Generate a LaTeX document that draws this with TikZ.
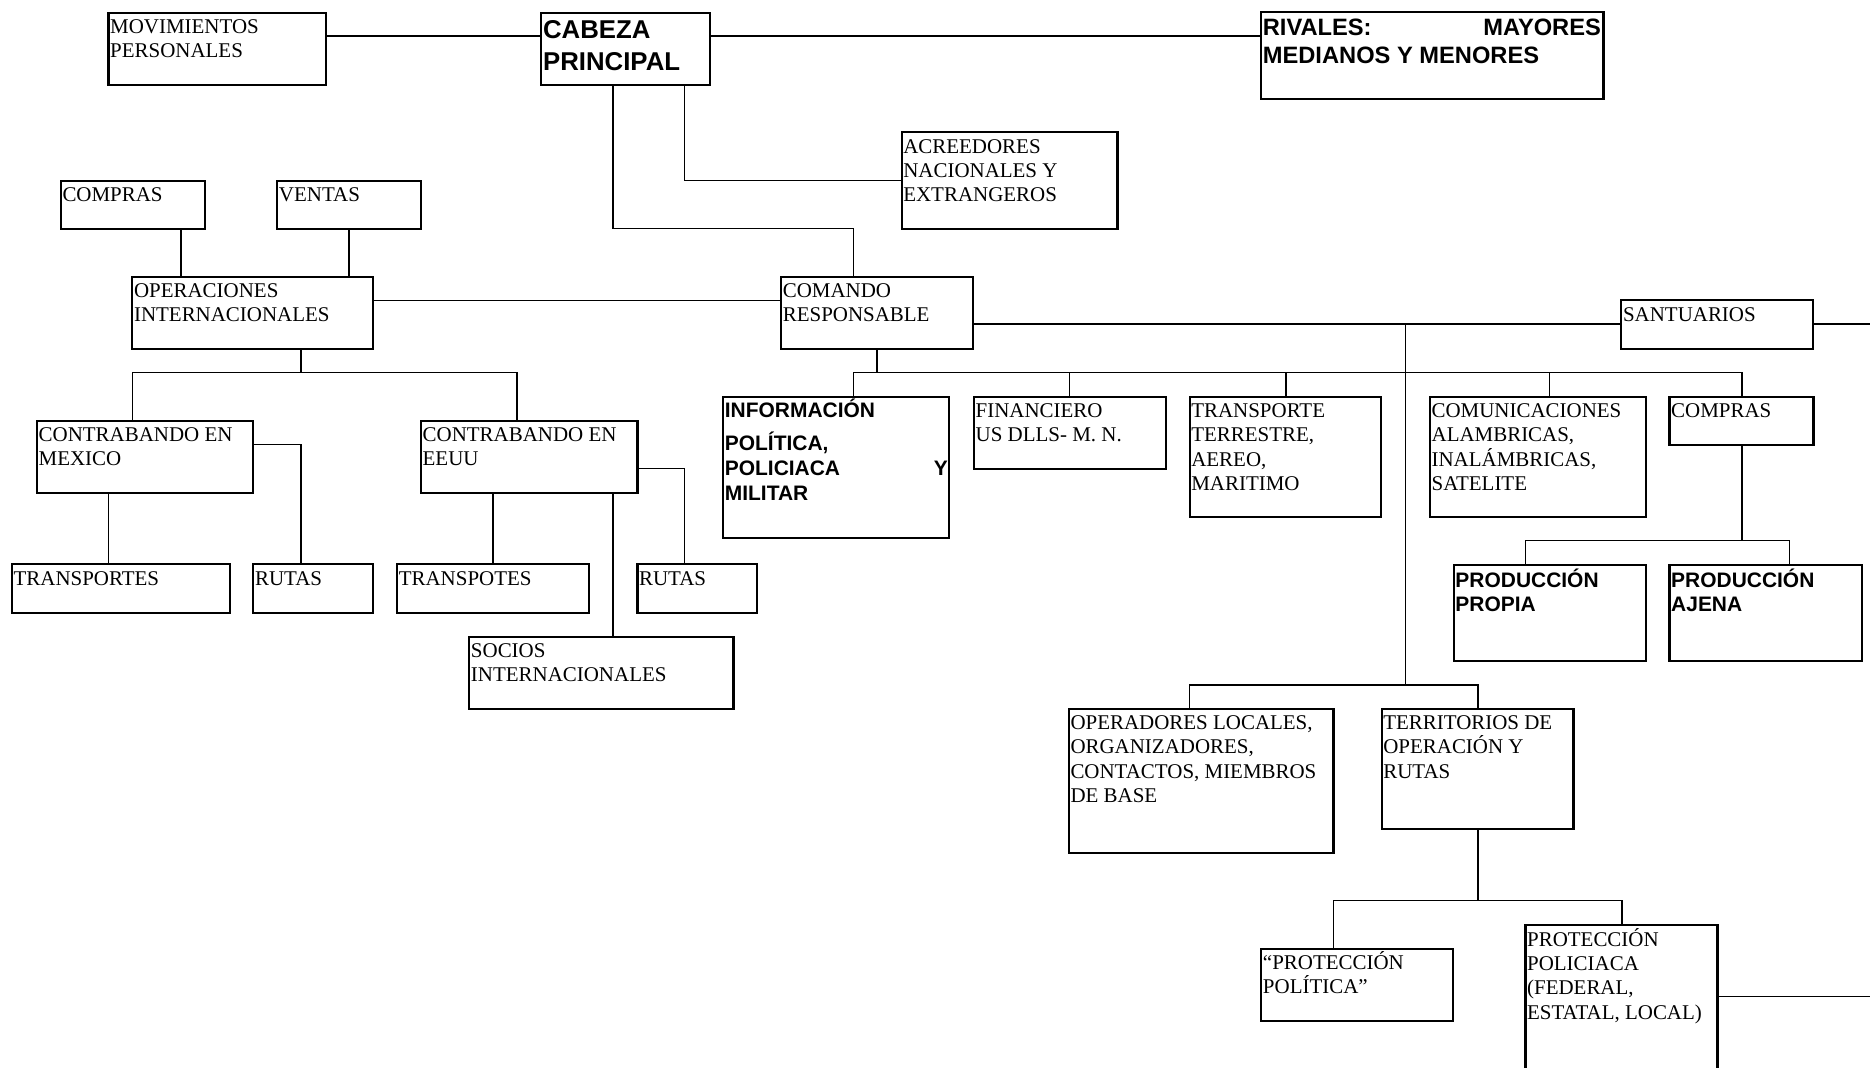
\documentclass[tikz,border=0pt]{standalone}
\usepackage{fontspec}
\setmainfont{Liberation Serif}
\setsansfont{Liberation Sans}
\usetikzlibrary{fit}
\newcommand\bx[8]{%
 \node[boxst, fit={(#2,#3)(#4,#5)}] (#1) {};
 \node[#6] (#1t) at ([xshift=0.6pt]#1.north west) {\rule{0pt}{#7}#8};
}
\tikzset{
 boxst/.style={draw, line width=1pt, inner sep=0pt, outer sep=0pt},
 ln/.style={line width=0.75pt},
 tr/.style={anchor=north west, inner sep=0pt, align=left, font=\fontsize{10}{11.6}\selectfont},
 tb/.style={anchor=north west, inner sep=0pt, align=left, font=\sffamily\bfseries\fontsize{10}{11.7}\selectfont},
 tinfo/.style={anchor=north west, inner sep=0pt, align=left, font=\sffamily\bfseries\fontsize{10}{12}\selectfont},
 tcab/.style={anchor=north west, inner sep=0pt, align=left, font=\sffamily\bfseries\fontsize{12.3}{15.1}\selectfont},
 triv/.style={anchor=north west, inner sep=0pt, align=left, font=\sffamily\bfseries\fontsize{11.3}{13.2}\selectfont},
}
\begin{document}
\begin{tikzpicture}[x=0.02cm,y=-0.02cm]
\useasboundingbox (0,0) rectangle (1568,895);
\clip (0,0) rectangle (1568,895);
% boxes
\bx{mov}{91}{10.6}{273}{71}{tr}{9.79pt}{MOVIMIENTOS\\PERSONALES}
\bx{cab}{454}{10.6}{595}{71}{tcab}{12.2pt}{CABEZA\\PRINCIPAL}
\bx{riv}{1057.5}{9.8}{1344.5}{83.3}{triv}{11.1pt}{\makebox[5.67cm][l]{RIVALES:\hfill MAYORES}\\MEDIANOS Y MENORES}
\bx{acr}{756}{111}{937}{191.7}{tr}{9.79pt}{ACREEDORES\\NACIONALES Y\\EXTRANGEROS}
\bx{compL}{51}{151.5}{172}{191.7}{tr}{9.79pt}{COMPRAS}
\bx{vent}{232.5}{151.5}{353}{191.7}{tr}{9.79pt}{VENTAS}
\bx{oper}{111}{232}{313}{292.3}{tr}{9.79pt}{OPERACIONES\\INTERNACIONALES}
\bx{com}{655}{232}{816}{292.3}{tr}{9.79pt}{COMANDO\\RESPONSABLE}
\bx{sant}{1359.5}{251.8}{1520.5}{292.3}{tr}{9.79pt}{SANTUARIOS}
\bx{cmx}{31}{352.7}{212.5}{413.6}{tr}{9.79pt}{CONTRABANDO EN\\MEXICO}
\bx{ceu}{353}{352.7}{534.5}{413.6}{tr}{9.79pt}{CONTRABANDO EN\\EEUU}
\bx{tra}{10}{473.2}{192.5}{513.7}{tr}{9.79pt}{TRANSPORTES}
\bx{rua}{212.5}{473.2}{313}{513.7}{tr}{9.79pt}{RUTAS}
\bx{trb}{333}{473.2}{494}{513.7}{tr}{9.79pt}{TRANSPOTES}
\bx{rub}{534.5}{473.2}{635}{513.7}{tr}{9.79pt}{RUTAS}
\bx{soc}{393.5}{533.8}{615}{594.2}{tr}{9.79pt}{SOCIOS\\INTERNACIONALES}
\bx{info}{606.4}{332.6}{796}{451.1}{tinfo}{9.85pt}{INFORMACIÓN\\[3.6pt]POLÍTICA,\\\makebox[3.74cm][l]{POLICIACA\hfill Y}\\MILITAR}
\bx{fin}{816.7}{332.6}{977.5}{393}{tr}{9.79pt}{FINANCIERO\\US DLLS- M. N.}
\bx{trn}{997.5}{332.6}{1158.3}{433.5}{tr}{9.79pt}{TRANSPORTE\\TERRESTRE,\\AEREO,\\MARITIMO}
\bx{comu}{1199}{332.6}{1379.8}{433.5}{tr}{9.79pt}{COMUNICACIONES\\ALAMBRICAS,\\INALÁMBRICAS,\\SATELITE}
\bx{compR}{1399.9}{332.6}{1520.6}{373.1}{tr}{9.79pt}{COMPRAS}
\bx{pp}{1219}{473.5}{1379.8}{554}{tb}{10.5pt}{PRODUCCIÓN\\PROPIA}
\bx{pa}{1399.9}{473.5}{1561.3}{554}{tb}{10.5pt}{PRODUCCIÓN\\AJENA}
\bx{ope}{896.2}{594.2}{1118.1}{715}{tr}{9.79pt}{OPERADORES LOCALES,\\ORGANIZADORES,\\CONTACTOS, MIEMBROS\\DE BASE}
\bx{ter}{1158.5}{594.2}{1319.4}{694.8}{tr}{9.79pt}{TERRITORIOS DE\\OPERACIÓN Y\\RUTAS}
\bx{ppol}{1057.6}{795.5}{1218.6}{856.1}{tr}{9.79pt}{“PROTECCIÓN\\POLÍTICA”}
\bx{ppoc}{1279.1}{775.9}{1440.1}{910}{tr}{9.79pt}{PROTECCIÓN\\POLICIACA\\(FEDERAL,\\ESTATAL, LOCAL)}
% helper coordinates
\coordinate (hA) at (0,30.2);
\coordinate (k1) at (514,191.7);
\coordinate (k2) at (715.5,191.7);
\coordinate (k3) at (574,151.5);
\coordinate (k4) at (152,0);
\coordinate (hB) at (0,252);
\coordinate (b1) at (252.5,312.5);
\coordinate (b1L) at (111,312.5);
\coordinate (b1R) at (433.5,312.5);
\coordinate (k5) at (252.5,372.8);
\coordinate (k6) at (91,0);
\coordinate (k7) at (413.5,0);
\coordinate (k8) at (574,392.9);
\coordinate (k9) at (514,0);
\coordinate (c1) at (735.5,312.5);
\coordinate (cL) at (715.5,312.5);
\coordinate (cR) at (1460.6,312.5);
\coordinate (c2) at (896.8,312.5);
\coordinate (c3) at (1078.2,312.5);
\coordinate (c4) at (1299.2,312.5);
\coordinate (hS) at (0,271.7);
\coordinate (s1) at (1178.5,271.7);
\coordinate (eR) at (1568,271.7);
\coordinate (s2) at (1178.5,574.4);
\coordinate (sL) at (997.5,574.4);
\coordinate (sR) at (1239.2,574.4);
\coordinate (p1) at (1460.6,453.3);
\coordinate (pL) at (1279.1,453.3);
\coordinate (pR) at (1500.6,453.3);
\coordinate (t1) at (1239.2,755.2);
\coordinate (tL) at (1118.1,755.2);
\coordinate (tR) at (1359.8,755.2);
\coordinate (hP) at (1568,835.7);
% connectors
\draw[ln] (mov.east |- hA) -- (cab.west |- hA);
\draw[ln] (cab.east |- hA) -- (riv.west |- hA);
\draw[ln] (cab.south -| k1) -- (k1) -- (k2) -- (com.north -| k2);
\draw[ln] (cab.south -| k3) -- (k3) -- (acr.west |- k3);
\draw[ln] (compL.south -| k4) -- (oper.north -| k4);
\draw[ln] (vent.south) -- (oper.north -| vent.south);
\draw[ln] (oper.east |- hB) -- (com.west |- hB);
\draw[ln] (oper.south -| b1) -- (b1);
\draw[ln] (cmx.north -| b1L) -- (b1L) -- (b1R) -- (ceu.north -| b1R);
\draw[ln] (cmx.east |- k5) -- (k5) -- (rua.north -| k5);
\draw[ln] (cmx.south -| k6) -- (tra.north -| k6);
\draw[ln] (ceu.south -| k7) -- (trb.north -| k7);
\draw[ln] (ceu.east |- k8) -- (k8) -- (rub.north -| k8);
\draw[ln] (ceu.south -| k9) -- (soc.north -| k9);
\draw[ln] (com.south -| c1) -- (c1);
\draw[ln] (info.north -| cL) -- (cL) -- (cR) -- (compR.north -| cR);
\draw[ln] (c2) -- (fin.north -| c2);
\draw[ln] (c3) -- (trn.north -| c3);
\draw[ln] (c4) -- (comu.north -| c4);
\draw[ln] (com.east |- hS) -- (sant.west |- hS);
\draw[ln] (sant.east |- hS) -- (eR);
\draw[ln] (s1) -- (s2);
\draw[ln] (ope.north -| sL) -- (sL) -- (sR) -- (ter.north -| sR);
\draw[ln] (compR.south -| p1) -- (p1);
\draw[ln] (pp.north -| pL) -- (pL) -- (pR) -- (pa.north -| pR);
\draw[ln] (ter.south -| t1) -- (t1);
\draw[ln] (ppol.north -| tL) -- (tL) -- (tR) -- (ppoc.north -| tR);
\draw[ln] (ppoc.east |- hP) -- (hP);
\end{tikzpicture}
\end{document}
